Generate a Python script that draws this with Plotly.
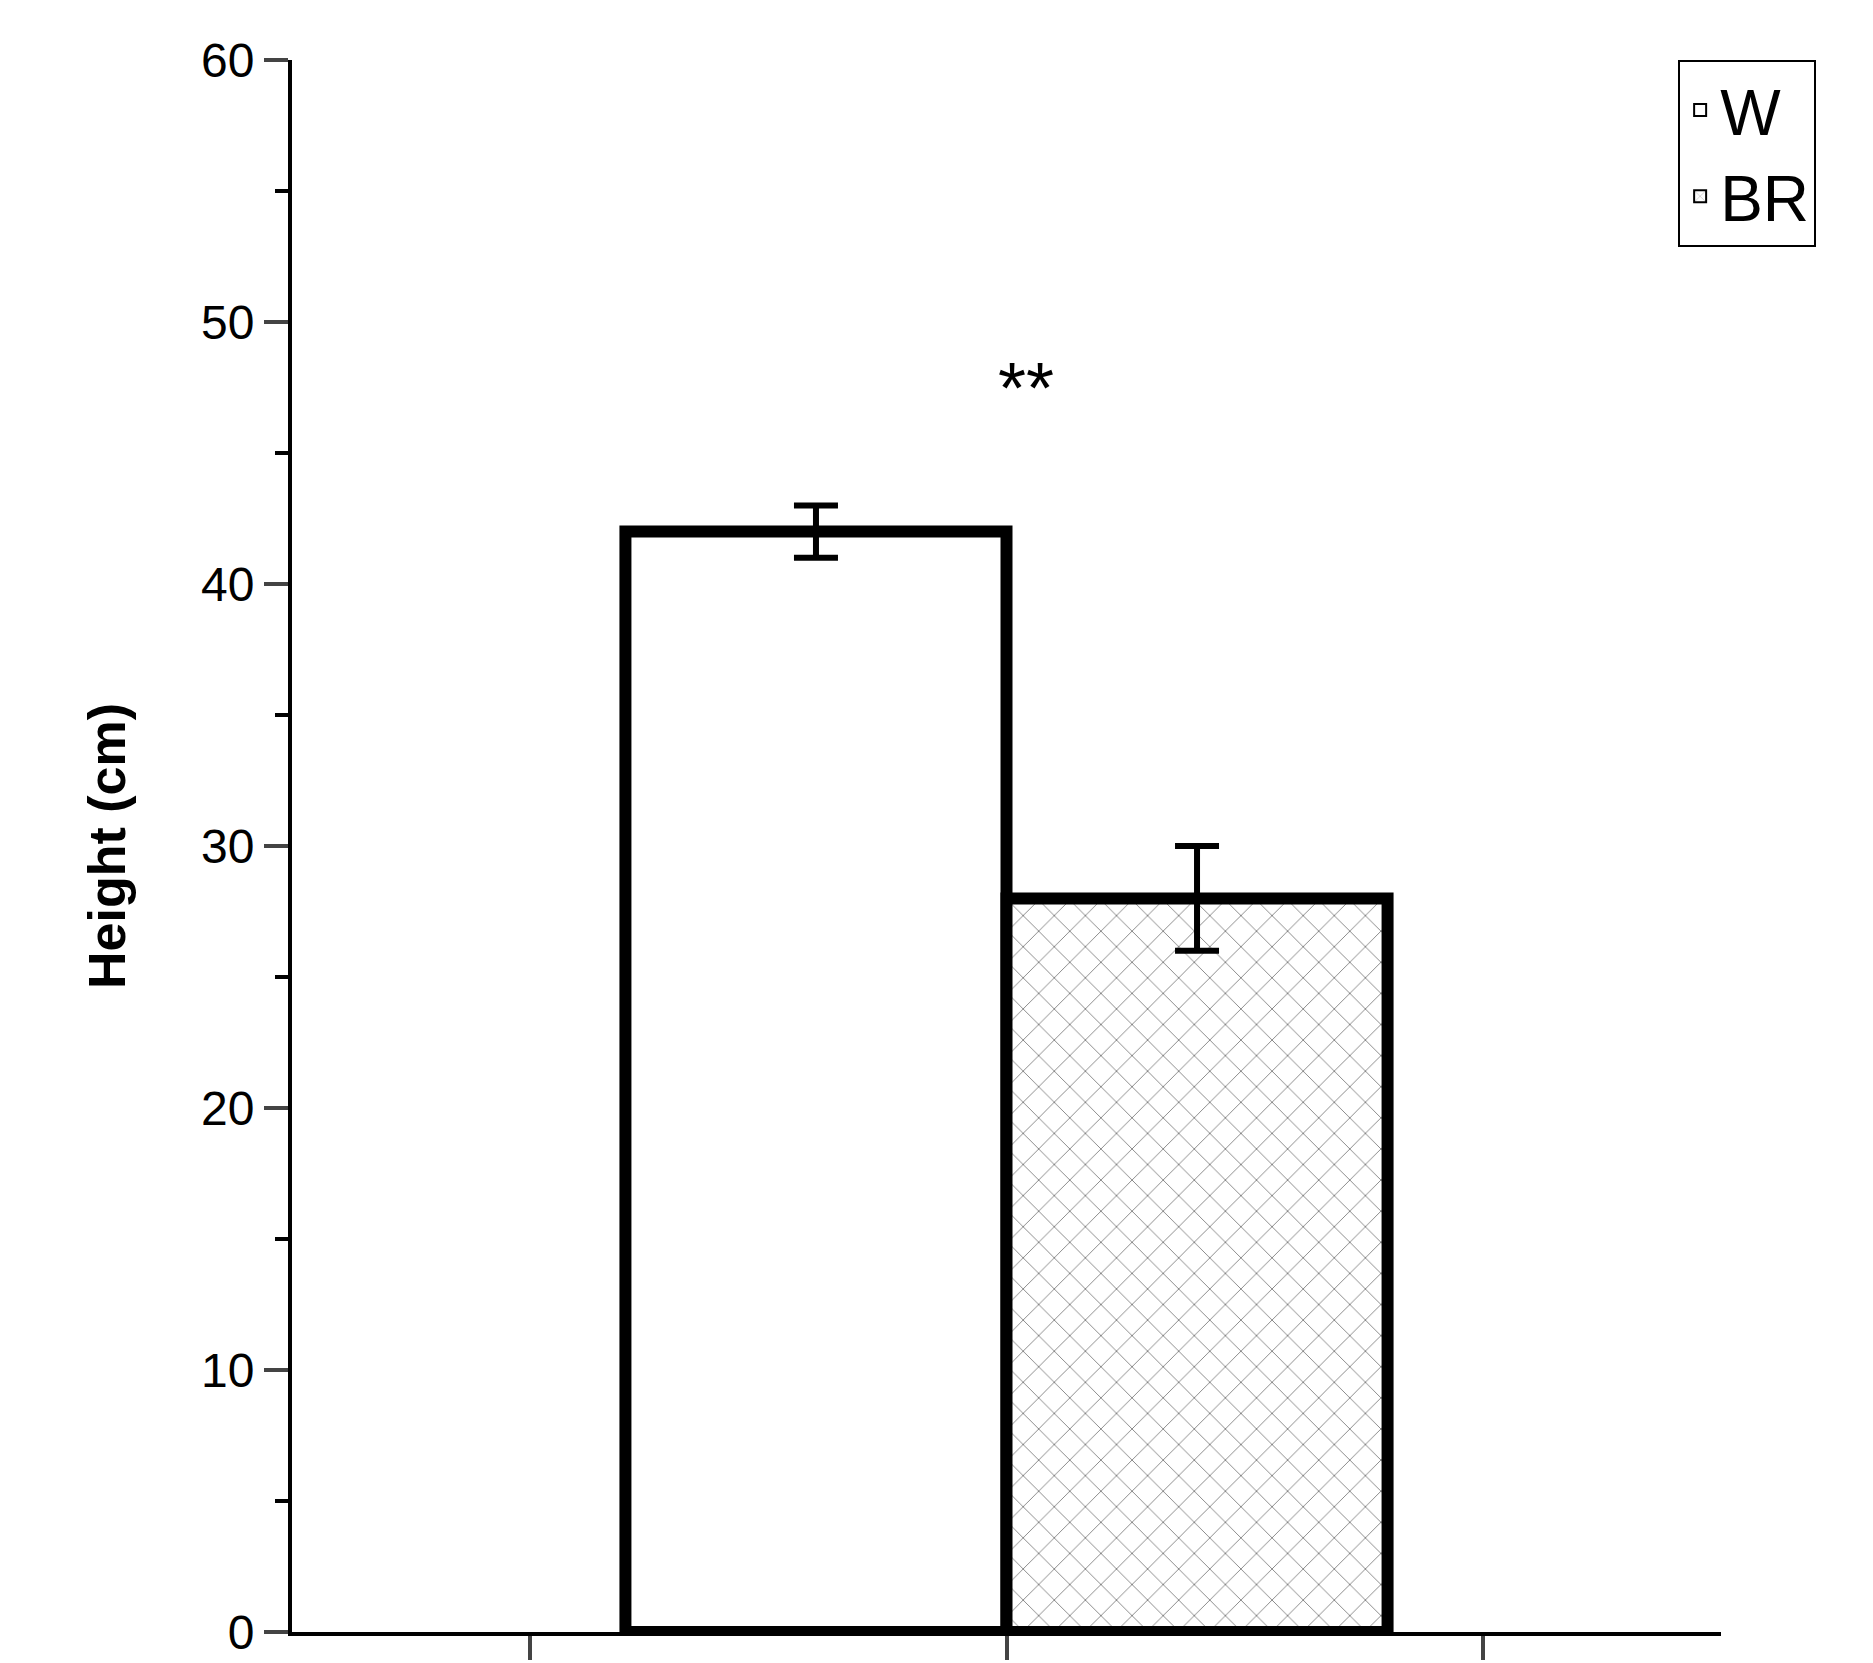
import plotly.graph_objects as go

groups = ["W", "BR"]
heights = [42, 28]
errors = [1, 2]
annot_text = "**"
annot_y = 47.5

fig = go.Figure()
fig.add_trace(go.Bar(
    name=groups[0], x=[1.5], y=[heights[0]], width=0.8, offset=-0.8,
    marker=dict(color="white", line=dict(color="black", width=12)),
    error_y=dict(type="data", array=[errors[0]], color="black", thickness=6, width=22),
))
fig.add_trace(go.Bar(
    name=groups[1], x=[1.5], y=[heights[1]], width=0.8, offset=0,
    marker=dict(color="white", line=dict(color="black", width=12),
                pattern=dict(shape="x", fgcolor="black", bgcolor="white", size=22, solidity=0.08)),
    error_y=dict(type="data", array=[errors[1]], color="black", thickness=6, width=22),
))
fig.add_annotation(x=1.54, y=annot_y, text=annot_text, showarrow=False,
                   font=dict(size=72, family="Liberation Sans", color="black"), yanchor="middle")

fig.update_layout(
    width=1873, height=1663, plot_bgcolor="white", paper_bgcolor="white",
    margin=dict(l=284, r=160, t=52, b=39),
    barmode="overlay", showlegend=True,
    font=dict(family="Liberation Sans", color="black"),
    legend=dict(x=1.0, y=1.0, xanchor="left", yanchor="top", xref="paper",
                bordercolor="black", borderwidth=2, bgcolor="white",
                font=dict(size=64), itemsizing="constant", tracegroupgap=0),
    xaxis=dict(range=[0, 3], tickvals=[0.5, 1.5, 2.5], ticktext=["", "", ""],
               ticks="outside", ticklen=24, tickwidth=4, showline=True, linewidth=4,
               linecolor="black", showgrid=False, zeroline=False),
    yaxis=dict(range=[0, 60], tickvals=[0, 10, 20, 30, 40, 50, 60], ticks="outside",
               ticklen=24, tickwidth=4, showline=True, linewidth=4, linecolor="black",
               showgrid=False, zeroline=False, tickfont=dict(size=48),
               minor=dict(dtick=5, ticks="outside", ticklen=13, tickwidth=4, tickcolor="black"),
               title=dict(text="<b>Height (cm)</b>", font=dict(size=52), standoff=60)),
)
fig.update_layout(legend=dict(x=0.97, xanchor="left"))
fig.write_html("out.html")
